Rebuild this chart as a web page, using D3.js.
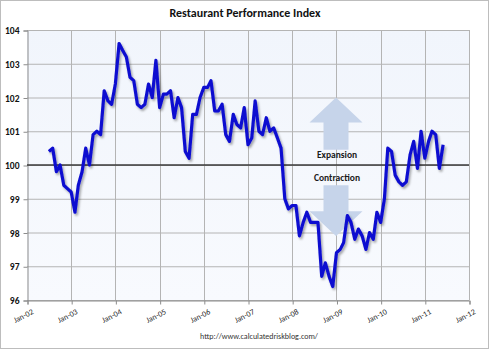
<!DOCTYPE html>
<html>
<head>
<meta charset="utf-8">
<script src="https://cdn.jsdelivr.net/npm/d3@7"></script>
<style>
  body { margin: 0; background: #fff; }
  svg { display: block; font-family: Carlito, Lato, "Open Sans", sans-serif; }
</style>
</head>
<body>
<svg id="chart" width="490" height="350"></svg>
<script>
// Restaurant Performance Index, monthly, Jul 2002 - Jun 2011
const firstMonth = new Date(2002, 6, 1);
const rpi = [
  100.4, 100.5, 99.8, 100.0, 99.4, 99.3,                    // 2002 H2
  99.2, 98.6, 99.4, 99.8, 100.5, 100.0, 100.9, 101.0, 100.9, 102.2, 101.9, 101.8,  // 2003
  102.4, 103.6, 103.4, 103.2, 102.6, 102.5, 101.8, 101.7, 101.8, 102.4, 102.0, 103.1, // 2004
  101.7, 102.1, 102.1, 102.2, 101.4, 102.0, 101.7, 100.4, 100.2, 101.5, 101.5, 102.0, // 2005
  102.3, 102.3, 102.5, 101.6, 101.6, 101.8, 100.9, 100.7, 101.5, 101.2, 101.1, 101.7, // 2006
  100.6, 100.8, 101.9, 101.0, 100.9, 101.4, 101.0, 101.1, 100.8, 100.5, 99.0, 98.7,  // 2007
  98.8, 98.8, 97.9, 98.3, 98.6, 98.3, 98.3, 98.3, 96.7, 97.1, 96.7, 96.4,            // 2008
  97.4, 97.5, 97.7, 98.5, 98.3, 97.8, 98.1, 97.9, 97.5, 98.0, 97.8, 98.6,            // 2009
  98.3, 99.0, 100.5, 100.4, 99.7, 99.5, 99.4, 99.5, 100.3, 100.7, 99.9, 101.0,       // 2010
  100.2, 100.7, 101.0, 100.9, 99.9, 100.6                                            // 2011 H1
];
const yearTicks = ["Jan-02", "Jan-03", "Jan-04", "Jan-05", "Jan-06", "Jan-07",
                   "Jan-08", "Jan-09", "Jan-10", "Jan-11", "Jan-12"];
const valueTicks = [96, 97, 98, 99, 100, 101, 102, 103, 104];
const zoneLabels = ["Expansion", "Contraction"];

const data = rpi.map((v, i) => ({ date: d3.timeMonth.offset(firstMonth, i), value: v }));
const parseTick = d3.timeParse("%b-%y");

const svg = d3.select("#chart");
const plot = { left: 27, right: 469, top: 30, bottom: 300 };

const x = d3.scaleTime()
  .domain([parseTick(yearTicks[0]), parseTick(yearTicks[yearTicks.length - 1])])
  .range([plot.left, plot.right]);
const y = d3.scaleLinear()
  .domain([valueTicks[0], valueTicks[valueTicks.length - 1]])
  .range([plot.bottom, plot.top]);

// outer frame
svg.append("rect")
  .attr("x", 0.5).attr("y", 0.5)
  .attr("width", 488).attr("height", 348)
  .attr("fill", "#fff")
  .attr("stroke", "#bdbdbd");

const defs = svg.append("defs");
const bg = defs.append("linearGradient").attr("id", "plotbg")
  .attr("x1", 0).attr("y1", 0).attr("x2", 0).attr("y2", 1);
bg.append("stop").attr("offset", "0%").attr("stop-color", "#f1f5fc");
bg.append("stop").attr("offset", "100%").attr("stop-color", "#f8fafe");

const shadow = defs.append("filter").attr("id", "shadow")
  .attr("x", "-5%").attr("y", "-5%").attr("width", "110%").attr("height", "115%");
shadow.append("feDropShadow")
  .attr("dx", 1.5).attr("dy", 2).attr("stdDeviation", 1.2)
  .attr("flood-color", "#000").attr("flood-opacity", 0.35);

// title
svg.append("text")
  .attr("x", 245).attr("y", 17)
  .attr("text-anchor", "middle")
  .attr("font-size", 12).attr("font-weight", "bold")
  .attr("fill", "#111")
  .text("Restaurant Performance Index");

// plot area
svg.append("rect")
  .attr("x", plot.left).attr("y", plot.top)
  .attr("width", plot.right - plot.left).attr("height", plot.bottom - plot.top)
  .attr("fill", "url(#plotbg)");

// grid
svg.append("g")
  .selectAll("line.h")
  .data(valueTicks)
  .join("line")
  .attr("x1", plot.left).attr("x2", plot.right)
  .attr("y1", d => y(d) + 0.5).attr("y2", d => y(d) + 0.5)
  .attr("stroke", "#b4b4b4");

svg.append("g")
  .selectAll("line.v")
  .data(yearTicks.slice(1))
  .join("line")
  .attr("x1", d => Math.round(x(parseTick(d))) + 0.5)
  .attr("x2", d => Math.round(x(parseTick(d))) + 0.5)
  .attr("y1", plot.top).attr("y2", plot.bottom)
  .attr("stroke", "#b4b4b4");

// y axis
const yAxis = svg.append("g")
  .attr("transform", `translate(${plot.left + 0.5},0.5)`)
  .call(d3.axisLeft(y).tickValues(valueTicks).tickSize(4).tickPadding(4).tickFormat(d3.format("d")));
yAxis.select(".domain").attr("stroke", "#8c8c8c");
yAxis.selectAll(".tick line").attr("stroke", "#8c8c8c");
yAxis.selectAll("text")
  .attr("font-size", 9.5).attr("font-weight", "bold")
  .attr("font-family", "Carlito, Lato, sans-serif")
  .attr("fill", "#111");

// x axis
const xAxis = svg.append("g")
  .attr("transform", `translate(0.5,${plot.bottom + 0.5})`)
  .call(d3.axisBottom(x)
    .tickValues(yearTicks.map(parseTick))
    .tickSize(4)
    .tickFormat(d3.timeFormat("%b-%y")));
xAxis.select(".domain").attr("stroke", "#8c8c8c");
xAxis.selectAll(".tick line").attr("stroke", "#8c8c8c");
xAxis.selectAll("text")
  .attr("font-size", 8)
  .attr("font-family", "Carlito, Lato, sans-serif")
  .attr("fill", "#222")
  .attr("text-anchor", "end")
  .attr("dy", 0)
  .attr("y", 0)
  .attr("transform", "translate(6,13) rotate(-27)");

// expansion / contraction arrows
const arrowColor = "#c6d4ea";
const ax = 336;
const upArrow = d3.path();
upArrow.moveTo(ax, y(102.0));
upArrow.lineTo(ax + 26.5, y(101.26));
upArrow.lineTo(ax + 12.5, y(101.26));
upArrow.lineTo(ax + 12.5, y(100.45));
upArrow.lineTo(ax - 12.5, y(100.45));
upArrow.lineTo(ax - 12.5, y(101.26));
upArrow.lineTo(ax - 26.5, y(101.26));
upArrow.closePath();
const downArrow = d3.path();
downArrow.moveTo(ax, y(97.9));
downArrow.lineTo(ax + 26.5, y(98.63));
downArrow.lineTo(ax + 12.5, y(98.63));
downArrow.lineTo(ax + 12.5, y(99.4));
downArrow.lineTo(ax - 12.5, y(99.4));
downArrow.lineTo(ax - 12.5, y(98.63));
downArrow.lineTo(ax - 26.5, y(98.63));
downArrow.closePath();
svg.append("path").attr("d", upArrow.toString()).attr("fill", arrowColor);
svg.append("path").attr("d", downArrow.toString()).attr("fill", arrowColor);

// zero-growth line at 100
svg.append("line")
  .attr("x1", plot.left).attr("x2", plot.right)
  .attr("y1", y(100)).attr("y2", y(100))
  .attr("stroke", "#3a3a3a").attr("stroke-width", 1.5);

svg.selectAll("text.zone")
  .data(zoneLabels)
  .join("text")
  .attr("class", "zone")
  .attr("x", ax + 1)
  .attr("y", (d, i) => i === 0 ? y(100) - 7 : y(100) + 16)
  .attr("text-anchor", "middle")
  .attr("font-size", 9.5).attr("font-weight", "bold")
  .attr("fill", "#1a1a1a")
  .text(d => d);

// the series
const line = d3.line()
  .x(d => x(d.date))
  .y(d => y(d.value));

svg.append("path")
  .datum(data)
  .attr("d", line)
  .attr("fill", "none")
  .attr("stroke", "#0c0cd0")
  .attr("stroke-width", 3.2)
  .attr("stroke-linejoin", "round")
  .attr("filter", "url(#shadow)");

// source
svg.append("text")
  .attr("x", 259).attr("y", 339)
  .attr("text-anchor", "middle")
  .attr("font-size", 8)
  .attr("fill", "#333")
  .text("http://www.calculatedriskblog.com/");
</script>
</body>
</html>
